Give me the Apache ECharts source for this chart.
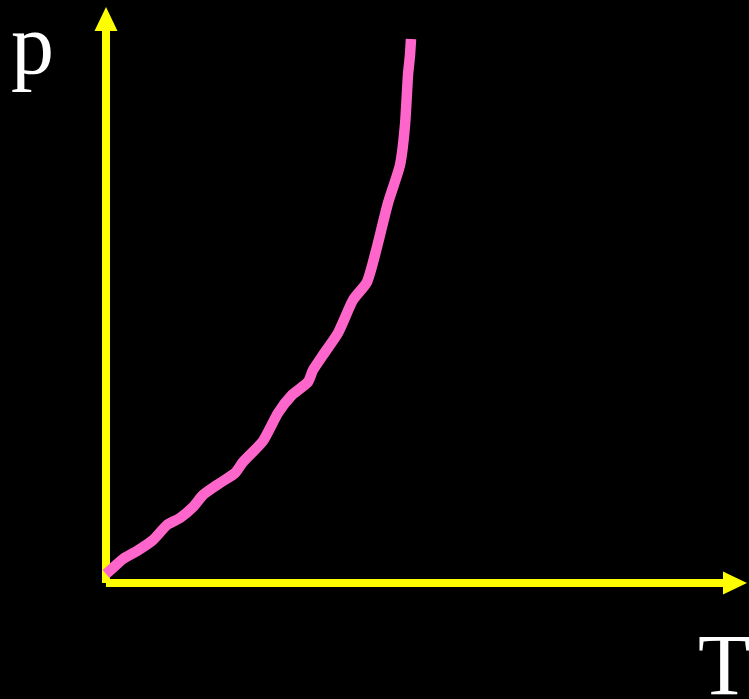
<!DOCTYPE html>
<html>
<head>
<meta charset="utf-8">
<title>p–T curve</title>
<script src="https://cdn.jsdelivr.net/npm/echarts@6/dist/echarts.min.js"></script>
<style>
  html, body { margin: 0; padding: 0; background: #000; }
  #chart { width: 749px; height: 699px; }
</style>
</head>
<body>
<div id="chart"></div>
<script>
// Temperature and pressure along the curve (arbitrary units)
const temperature = [0, 9, 17, 31, 47, 61, 74, 87, 97, 114, 129, 137, 157, 172, 186, 202, 207, 217, 232, 247, 261, 271, 282, 294, 299, 302, 304, 305];
const pressure    = [9, 17, 24, 32, 43, 58, 65, 76, 88, 100, 110, 121, 142, 170, 188, 201, 213, 228, 250, 283, 301, 336, 380, 418, 458, 508, 528, 544];

// Axis extents
const tMax = 629;
const pMax = 564;

const axisLabelX = 'T';
const axisLabelY = 'p';

const curve = temperature.map((t, i) => [t, pressure[i]]);

const chart = echarts.init(document.getElementById('chart'), null, { renderer: 'canvas' });

const yellowAxis = {
  show: true,
  onZero: true,
  symbol: ['none', 'triangle'],
  symbolSize: [23, 24],
  lineStyle: { color: '#FFFF00', width: 8, cap: 'butt' }
};

const labelFont = '86px "Liberation Serif", "Times New Roman", serif';

chart.setOption({
  backgroundColor: '#000000',
  animation: false,
  grid: { left: 106, top: 19, width: 629, bottom: 116, containLabel: false },
  xAxis: {
    type: 'value', min: 0, max: tMax,
    axisLine: yellowAxis,
    axisTick: { show: false }, axisLabel: { show: false }, splitLine: { show: false }
  },
  yAxis: {
    type: 'value', min: 0, max: pMax,
    axisLine: yellowAxis,
    axisTick: { show: false }, axisLabel: { show: false }, splitLine: { show: false }
  },
  graphic: [
    {
      type: 'text', left: 11, top: 7,
      style: { text: axisLabelY, fill: '#FFFFFF', font: labelFont }
    },
    {
      type: 'text', left: 698, top: 628,
      style: { text: axisLabelX, fill: '#FFFFFF', font: labelFont }
    }
  ],
  series: [{
    type: 'line',
    data: curve,
    smooth: 0.2,
    symbol: 'none',
    lineStyle: { color: '#FF66CC', width: 10.5, cap: 'butt', join: 'round' }
  }]
});
</script>
</body>
</html>
